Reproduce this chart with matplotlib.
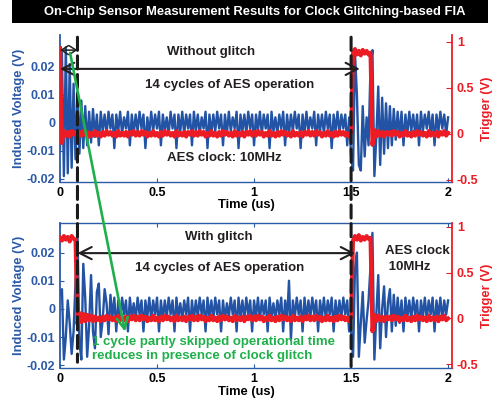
import numpy as np
import matplotlib
matplotlib.use('Agg')
import matplotlib.pyplot as plt
from matplotlib.patches import ConnectionPatch, Rectangle

plt.rcParams['font.family'] = ['Liberation Sans', 'DejaVu Sans']
plt.rcParams['font.weight'] = 'bold'
plt.rcParams['axes.labelweight'] = 'bold'

TITLE = "On-Chip Sensor Measurement Results for Clock Glitching-based FIA"

# sample grid, 0.01 us
time_us = np.round(np.arange(201) * 0.01, 2)

# induced voltage in mV, without glitch
blue_top_mV = [
    -10, 25, -19, 27, -18, 21, -16, 14, -13, 11,
    -11, 8, -9, 6, -8, 4, -7, 5, -5, 3,
    -8, 4, -3, 3, -4, 4, -2, 3, -9, 3,
    -3, 4, -4, 2, -2, 4, -8, 3, -4, 3,
    -3, 4, -2, 3, -9, 2, -4, 4, -3, 3,
    -2, 4, -8, 3, -3, 2, -4, 4, -2, 3,
    -9, 3, -3, 4, -4, 3, -2, 3, -8, 4,
    -3, 3, -4, 2, -2, 4, -9, 3, -4, 3,
    -3, 4, -2, 3, -8, 3, -4, 4, -3, 2,
    -2, 4, -9, 3, -3, 3, -4, 4, -2, 3,
    -8, 3, -3, 4, -4, 3, -2, 3, -9, 4,
    -3, 2, -4, 3, -2, 4, -8, 3, -4, 3,
    -3, 4, -2, 3, -9, 3, -4, 4, -3, 2,
    -2, 4, -8, 3, -3, 3, -4, 4, -2, 3,
    -9, 3, -3, 4, -4, 3, -2, 3, -8, 2,
    -12, -17, 25, 10, -15, -17, 6, -12, 2, -8,
    20, 26, -19, -5, 13, -15, 9, -11, 7, -9,
    6, -8, 5, -6, 4, -5, 4, -8, 3, -4,
    4, -3, 3, -4, 3, -8, 4, -3, 3, -2,
    4, -4, 3, -8, 3, -3, 4, -2, 3, -4,
    2]

# induced voltage in mV, with glitch
blue_bot_mV = [
    5, 7, -18, -10, 3, -5, -16, -8, 10, 27,
    -12, -18, 16, 4, -17, -6, 12, -8, -14, 6,
    9, -10, -4, 7, 2, -9, 5, -3, 4, -8,
    3, -4, 4, -2, 3, -8, 4, -3, 2, -4,
    4, -2, 3, -8, 3, -3, 4, -4, 3, -2,
    4, -8, 3, -4, 3, -3, 4, -2, 3, -8,
    4, -3, 2, -4, 3, -2, 4, -8, 3, -4,
    3, -3, 4, -2, 3, -8, 4, -3, 3, -4,
    4, -2, 3, -8, 3, -4, 2, -3, 4, -2,
    3, -8, 4, -3, 3, -4, 4, -2, 3, -8,
    3, -3, 4, -4, 3, -2, 3, -8, 4, -3,
    2, -4, 3, -2, 4, -8, 3, -4, 10, -11,
    3, -3, 4, -2, 3, -8, 4, -4, 3, -3,
    4, -2, 3, -8, 3, -3, 4, -4, 3, -2,
    4, -8, 3, -4, 3, -3, 4, -2, 3, -8,
    -8, -17, 14, 20, -17, -5, 6, -12, -4, 3,
    15, 27, -18, -2, 12, -14, 0, 8, -10, 2,
    7, -8, 5, -6, 4, -5, 3, -8, 4, -3,
    3, -4, 4, -2, 3, -8, 3, -3, 4, -4,
    3, -2, 4, -8, 3, -3, 4, -4, 3, -2,
    3]

# trigger in 0.01 V, without glitch
red_top_cV = [
    93, -10, 3, -2, 2, -3, 3, -1, 2, -2,
    2, -2, 3, -1, 2, -3, 1, -2, 3, -2,
    1, -3, 2, -2, 3, -1, 2, -2, 1, -3,
    3, -2, 1, -2, 2, -3, 2, -1, 3, -2,
    2, -2, 3, -1, 2, -3, 1, -2, 3, -2,
    1, -3, 2, -2, 3, -1, 2, -2, 1, -3,
    3, -2, 1, -2, 2, -3, 2, -1, 3, -2,
    2, -2, 3, -1, 2, -3, 1, -2, 3, -2,
    1, -3, 2, -2, 3, -1, 2, -2, 1, -3,
    3, -2, 1, -2, 2, -3, 2, -1, 3, -2,
    2, -2, 3, -1, 2, -3, 1, -2, 3, -2,
    1, -3, 2, -2, 3, -1, 2, -2, 1, -3,
    3, -2, 1, -2, 2, -3, 2, -1, 3, -2,
    2, -2, 3, -1, 2, -3, 1, -2, 3, -2,
    1, -3, 2, -2, 3, -1, 2, -2, 1, -3,
    1, 88, 92, 86, 90, 85, 91, 87, 90, 86,
    88, -12, 4, -3, 3, -2, 2, -3, 2, -1,
    2, -2, 3, -1, 2, -3, 1, -2, 3, -2,
    1, -3, 2, -2, 3, -1, 2, -2, 1, -3,
    3, -2, 1, -2, 2, -3, 2, -1, 3, -2,
    1]

# trigger in 0.01 V, with glitch
red_bot_cV = [
    88, 85, 90, 86, 89, 84, 90, 87, 86, -6,
    6, -4, 5, -3, 4, -2, 3, -3, 2, -2,
    1, -3, 2, -2, 3, -1, 2, -2, 1, -3,
    3, -2, 1, -2, 2, -3, 2, -1, 3, -2,
    2, -2, 3, -1, 2, -3, 1, -2, 3, -2,
    1, -3, 2, -2, 3, -1, 2, -2, 1, -3,
    3, -2, 1, -2, 2, -3, 2, -1, 3, -2,
    2, -2, 3, -1, 2, -3, 1, -2, 3, -2,
    1, -3, 2, -2, 3, -1, 2, -2, 1, -3,
    3, -2, 1, -2, 2, -3, 2, -1, 3, -2,
    2, -2, 3, -1, 2, -3, 1, -2, 3, -2,
    1, -3, 2, -2, 3, -1, 2, -2, 1, -3,
    3, -2, 1, -2, 2, -3, 2, -1, 3, -2,
    2, -2, 3, -1, 2, -3, 1, -2, 3, -2,
    1, -3, 2, -2, 3, -1, 2, -2, 1, -3,
    1, 85, 90, 86, 91, 85, 89, 86, 90, 87,
    88, -14, 4, -3, 3, -2, 2, -3, 2, -1,
    2, -2, 3, -1, 2, -3, 1, -2, 3, -2,
    1, -3, 2, -2, 3, -1, 2, -2, 1, -3,
    3, -2, 1, -2, 2, -3, 2, -1, 3, -2,
    0]

x_ticks = [0, 0.5, 1, 1.5, 2]
x_tick_labels = ['0', '0.5', '1', '1.5', '2']
left_ticks = [-0.02, -0.01, 0, 0.01, 0.02]
left_tick_labels = ['-0.02', '-0.01', '0', '0.01', '0.02']
right_ticks = [-0.5, 0, 0.5, 1]
right_tick_labels = ['-0.5', '0', '0.5', '1']

glitch_edge_us = 0.09
trigger_edge_us = 1.5

BLUE_LINE = '#2353a4'
BLUE_TXT = '#2c5aa8'
RED = '#ed1c24'
GREEN = '#1fb04b'
BLACK = '#231f20'

TICK_FS = 9
LABEL_FS = 9.3
ANN_FS = 9.5

W, H = 501, 408
fig = plt.figure(figsize=(W / 100, H / 100), dpi=100, facecolor='white')


def px_axes(left, top, right, bottom):
    return fig.add_axes([left / W, 1 - bottom / H, (right - left) / W, (bottom - top) / H])


ax1 = px_axes(60, 35, 452, 182)
ax2 = px_axes(60, 223, 452, 368)
ax1r = ax1.twinx()
ax2r = ax2.twinx()


def setup(ax, axr, top_spine, ylimL, ylimR, xlab_y):
    ax.set_xlim(0, 2.02)
    ax.set_ylim(*ylimL)
    axr.set_ylim(*ylimR)
    ax.set_xticks(x_ticks)
    ax.set_xticklabels(x_tick_labels)
    ax.set_yticks(left_ticks)
    ax.set_yticklabels(left_tick_labels)
    axr.set_yticks(right_ticks)
    axr.set_yticklabels(right_tick_labels)
    for s in ['left', 'bottom', 'top']:
        ax.spines[s].set_color(BLUE_TXT)
        ax.spines[s].set_linewidth(1.0)
    ax.spines['left'].set_linewidth(1.3)
    ax.spines['top'].set_visible(top_spine)
    ax.spines['right'].set_visible(False)
    for s in ['left', 'bottom', 'top']:
        axr.spines[s].set_visible(False)
    axr.spines['right'].set_color(RED)
    axr.spines['right'].set_linewidth(1.3)
    ax.tick_params(axis='x', direction='in', length=3, color=BLUE_TXT, labelcolor='black',
                   labelsize=TICK_FS, pad=3.5, top=top_spine)
    ax.tick_params(axis='y', direction='in', length=3, color=BLUE_TXT, labelcolor=BLUE_TXT,
                   labelsize=TICK_FS, pad=3.5)
    axr.tick_params(axis='y', direction='in', length=4, color=RED, labelcolor=RED,
                    labelsize=TICK_FS, pad=3.5)
    ax.set_xlabel('Time (us)', fontsize=LABEL_FS)
    ax.xaxis.set_label_coords(0.476, xlab_y, transform=ax.transAxes)
    ax.xaxis.label.set_va('top')
    ax.set_ylabel('Induced Voltage (V)', color=BLUE_TXT, fontsize=LABEL_FS, labelpad=1)
    axr.set_ylabel('Trigger (V)', color=RED, fontsize=LABEL_FS, labelpad=2)
    ax.patch.set_visible(False)


setup(ax1, ax1r, False, (-0.0211, 0.0314), (-0.523, 1.072), -0.118)
setup(ax2, ax2r, True, (-0.021, 0.0305), (-0.541, 1.042), -0.125)

ax1.plot(time_us, np.array(blue_top_mV) / 1000.0, color=BLUE_LINE, lw=1.7)
ax2.plot(time_us, np.array(blue_bot_mV) / 1000.0, color=BLUE_LINE, lw=1.7)
ax1r.plot(time_us, np.array(red_top_cV) / 100.0, color=RED, lw=2.9)
ax2r.plot(time_us, np.array(red_bot_cV) / 100.0, color=RED, lw=2.9)

txt = dict(ha='center', va='center', fontsize=ANN_FS, color=BLACK, zorder=10)
ax1r.text(0.781, 0.0254, 'Without glitch', transform=ax1.transData, **txt)
ax1r.text(0.874, 0.0136, '14 cycles of AES operation', transform=ax1.transData, **txt)
ax1r.text(0.845, -0.0125, 'AES clock: 10MHz', transform=ax1.transData, **txt)
ax2r.text(0.82, 0.0256, 'With glitch', transform=ax2.transData, **txt)
ax2r.text(0.825, 0.0146, '14 cycles of AES operation', transform=ax2.transData, **txt)
ax2r.text(1.675, 0.0176, 'AES clock\n 10MHz', transform=ax2.transData, ha='left', va='center',
          fontsize=ANN_FS, color=BLACK, linespacing=1.45, zorder=10)
ax2r.text(0.165, -0.0143, '1 cycle partly skipped operational time\nreduces in presence of clock glitch',
          transform=ax2.transData, ha='left', va='center', fontsize=ANN_FS, color=GREEN,
          linespacing=1.15, zorder=10)

big = dict(arrowstyle='<->,head_length=0.43,head_width=0.22', mutation_scale=20, color=BLACK,
           lw=1.5, shrinkA=0, shrinkB=0)
ax1r.annotate('', xy=(1.545, 0.0193), xycoords=ax1.transData, xytext=(0, 0.0193),
              textcoords=ax1.transData, arrowprops=big)
ax2r.annotate('', xy=(1.52, 0.0198), xycoords=ax2.transData, xytext=(glitch_edge_us, 0.0198),
              textcoords=ax2.transData, arrowprops=big)
small = dict(arrowstyle='<->,head_length=0.25,head_width=0.16', mutation_scale=20, color=BLACK,
             lw=1.1, shrinkA=0, shrinkB=0)
ax1r.annotate('', xy=(glitch_edge_us, 0.026), xycoords=ax1.transData, xytext=(0, 0.026),
              textcoords=ax1.transData, arrowprops=small)

for xe, yb in [(glitch_edge_us, 0.04), (trigger_edge_us, 0.01)]:
    cp = ConnectionPatch(xyA=(xe, 0.985), coordsA=ax1.get_xaxis_transform(),
                         xyB=(xe, yb), coordsB=ax2.get_xaxis_transform(),
                         color='#1a1a1a', lw=2.2, linestyle=(0, (4.3, 1.8)), zorder=5)
    fig.add_artist(cp)

ga = ConnectionPatch(xyA=(0.052, 0.025), coordsA=ax1.transData, xyB=(0.335, -0.0081),
                     coordsB=ax2.transData, arrowstyle='->,head_length=0.4,head_width=0.2',
                     mutation_scale=20, color=GREEN, lw=1.9, shrinkA=0, shrinkB=0, zorder=6)
fig.add_artist(ga)

fig.add_artist(Rectangle((12 / W, 1 - 23 / H), 476 / W, 23 / H, transform=fig.transFigure,
                         facecolor='black', edgecolor='none', zorder=0))
fig.text(255 / W, 1 - 11.5 / H, TITLE, color='white', ha='center', va='center', fontsize=9.4)

fig.savefig('out.png', dpi=100, facecolor='white')
